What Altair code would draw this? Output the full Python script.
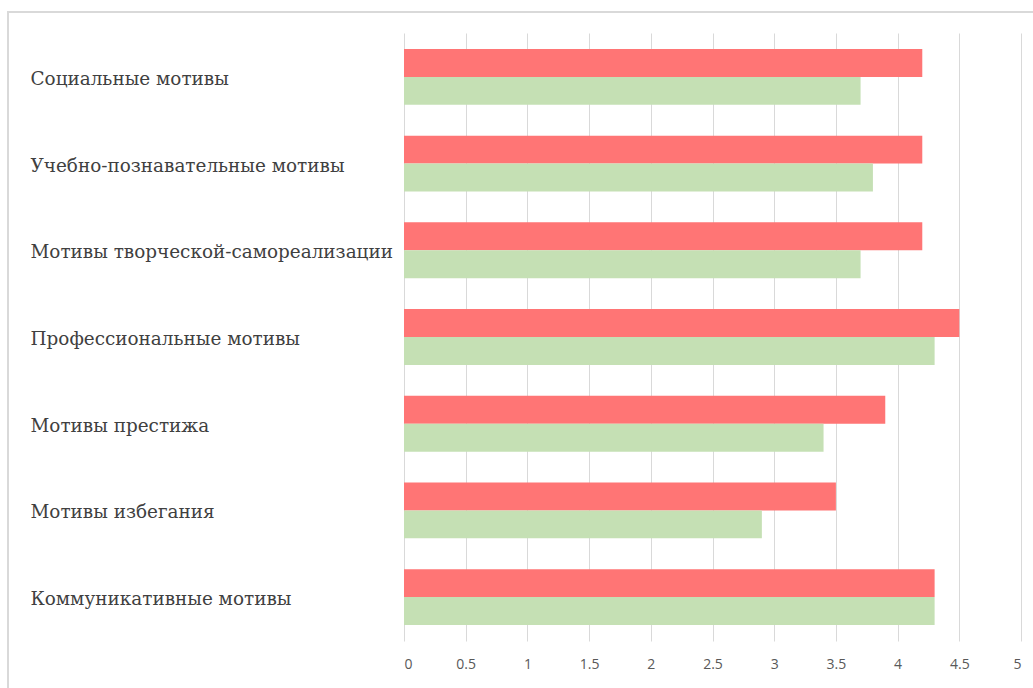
import altair as alt
import pandas as pd

categories = [
    "Социальные мотивы",
    "Учебно-познавательные мотивы",
    "Мотивы творческой-самореализации",
    "Профессиональные мотивы",
    "Мотивы престижа",
    "Мотивы избегания",
    "Коммуникативные мотивы",
]
series_names = ["Ряд 1", "Ряд 2"]
red_values = [4.2, 4.2, 4.2, 4.5, 3.9, 3.5, 4.3]
green_values = [3.7, 3.8, 3.7, 4.3, 3.4, 2.9, 4.3]
x_ticks = [0, 0.5, 1, 1.5, 2, 2.5, 3, 3.5, 4, 4.5, 5]

rows = []
for cat, r, g in zip(categories, red_values, green_values):
    rows.append({"category": cat, "series": series_names[0], "value": r})
    rows.append({"category": cat, "series": series_names[1], "value": g})
df = pd.DataFrame(rows)

W, H = 617, 608

bars = alt.Chart(df).mark_bar().encode(
    x=alt.X(
        "value:Q",
        scale=alt.Scale(domain=[0, 5], nice=False),
        axis=alt.Axis(
            values=x_ticks,
            title=None,
            domain=False,
            grid=True,
            gridColor="#d9d9d9",
            ticks=False,
            labelPadding=16,
            labelFont="Open Sans",
            labelFontSize=14,
            labelColor="#595959",
            labelExpr="datum.value",
        ),
    ),
    y=alt.Y(
        "category:N",
        sort=categories,
        scale=alt.Scale(paddingInner=0.355, paddingOuter=0.184),
        axis=alt.Axis(
            title=None,
            domain=False,
            ticks=False,
            labelAlign="left",
            labelPadding=374,
            labelLimit=400,
            labelOffset=2,
            labelFont="DejaVu Serif",
            labelFontSize=18.4,
            labelColor="#404040",
        ),
    ),
    yOffset=alt.YOffset("series:N", sort=series_names),
    color=alt.Color(
        "series:N",
        sort=series_names,
        scale=alt.Scale(domain=series_names, range=["#ff7575", "#c5e0b4"]),
        legend=None,
    ),
)

# light outer frame around the chart area
frame = alt.Chart(pd.DataFrame({"f": [0]})).mark_rect(
    fill=None, stroke="#d9d9d9", strokeWidth=2, clip=False
).encode(
    x=alt.value(-396),
    x2=alt.value(W + 60),
    y=alt.value(-21),
    y2=alt.value(H + 120),
)

chart = (
    alt.layer(frame, bars)
    .properties(
        width=W,
        height=H,
        autosize=alt.AutoSizeParams(type="none"),
        padding={"left": 404, "top": 33, "right": 12, "bottom": 47},
        background="white",
    )
    .configure_view(stroke=None)
)

chart.save("out.html", embed_options={"renderer": "svg", "actions": False})
